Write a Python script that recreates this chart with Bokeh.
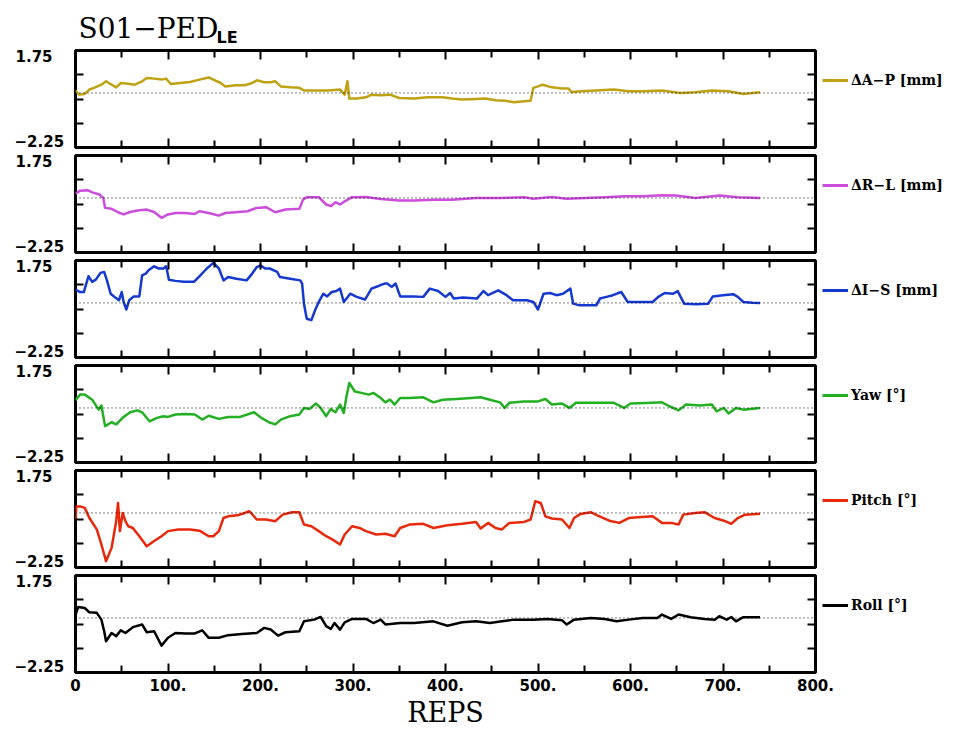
import math
from bokeh.plotting import figure
from bokeh.models import Range1d, LinearAxis, FixedTicker, Span, Label, Legend, LegendItem
from bokeh.layouts import column, row
from bokeh.embed import file_html
from bokeh.resources import INLINE

# ---------------- data ----------------
AP_REPS = [0,4,10,15,20,28,33,39,44,49,57,64,72,77,85,93,98,103,113,124,134,144,149,157,162,173,183,191,196,204,211,216,222,232,242,247,258,273,286,291,294,296,304,314,320,330,340,350,366,381,397,407,418,433,443,454,464,474,485,492,495,500,505,515,526,533,536,546,562,582,598,613,634,654,670,688,706,722,740]
AP_VALS = [0.10,-0.07,-0.04,0.14,0.21,0.34,0.48,0.34,0.23,0.41,0.38,0.34,0.48,0.62,0.59,0.55,0.59,0.37,0.41,0.45,0.55,0.64,0.55,0.41,0.27,0.32,0.32,0.41,0.52,0.44,0.44,0.48,0.27,0.23,0.21,0.10,0.10,0.10,0.14,-0.07,0.48,-0.23,-0.23,-0.18,-0.07,-0.10,-0.07,-0.21,-0.23,-0.18,-0.18,-0.23,-0.27,-0.25,-0.23,-0.30,-0.32,-0.38,-0.34,-0.32,0.21,0.27,0.34,0.23,0.18,0.18,0.04,0.07,0.10,0.14,0.07,0.07,0.10,0.0,0.03,0.10,0.07,-0.04,0.03]

RL_REPS = [0,5,13,18,26,30,32,39,46,52,59,67,77,85,93,100,108,119,129,134,144,155,162,173,186,196,206,216,227,242,246,250,263,271,276,281,286,291,299,314,330,350,366,387,407,433,459,485,495,515,531,551,572,593,613,634,649,670,696,716,740]
RL_VALS = [0.18,0.30,0.32,0.23,0.14,0.0,-0.41,-0.45,-0.59,-0.68,-0.58,-0.52,-0.48,-0.58,-0.82,-0.68,-0.62,-0.62,-0.66,-0.55,-0.62,-0.73,-0.62,-0.59,-0.55,-0.41,-0.38,-0.59,-0.48,-0.45,-0.07,0.03,0.03,-0.27,-0.34,-0.18,-0.27,-0.14,0.03,0.04,-0.04,-0.11,-0.11,-0.07,-0.07,0.0,0.0,0.03,-0.03,0.04,-0.03,0.0,0.03,0.07,0.07,0.11,0.10,0.0,0.10,0.03,0.0]

IS_REPS = [0,5,9,14,18,22,27,31,34,38,43,47,50,52,55,58,63,69,72,76,79,85,90,95,98,101,108,117,128,135,142,149,155,160,165,174,185,191,196,200,205,210,218,221,232,243,245,247,250,255,259,263,268,272,277,282,286,290,297,304,313,320,327,334,337,342,346,351,365,376,383,392,400,405,409,419,434,441,446,457,466,473,488,495,500,506,513,520,527,535,538,545,563,567,574,581,590,597,610,624,630,637,646,651,658,671,684,689,700,711,716,722,732,740]
IS_VALS = [0.55,0.45,0.45,1.10,0.87,0.96,1.24,1.28,0.93,0.38,0.22,0.11,0.45,0.04,-0.27,0.11,0.27,0.27,1.14,1.21,1.35,1.51,1.42,1.42,1.51,0.96,0.91,0.87,0.87,1.14,1.42,1.65,1.42,0.93,1.07,1.00,0.93,1.21,1.48,1.55,1.42,1.42,1.28,1.07,1.00,0.93,0.80,-0.03,-0.65,-0.71,-0.30,0.04,0.38,0.27,0.45,0.49,0.59,0.04,0.38,0.25,0.14,0.59,0.69,0.80,0.80,0.66,0.80,0.27,0.27,0.25,0.59,0.49,0.25,0.41,0.18,0.22,0.18,0.49,0.32,0.52,0.32,0.11,0.11,0.04,-0.27,0.38,0.41,0.32,0.38,0.59,-0.03,-0.10,-0.10,0.18,0.25,0.32,0.45,0.04,0.04,0.04,0.25,0.41,0.38,0.49,-0.03,-0.05,-0.03,0.27,0.32,0.36,0.25,0.04,0.01,0.0]

YAW_REPS = [0,5,10,18,25,28,32,39,44,52,59,67,72,80,88,95,100,108,119,129,137,144,155,165,178,193,201,209,216,222,232,242,247,253,260,265,271,276,281,286,290,293,296,302,309,317,322,330,335,340,345,351,361,376,387,397,412,428,438,448,459,464,469,485,500,508,515,526,534,541,562,582,593,600,624,634,642,652,660,675,688,693,701,706,714,722,740]
YAW_VALS = [0.32,0.55,0.55,0.34,-0.07,0.10,-0.75,-0.59,-0.68,-0.37,-0.18,-0.10,-0.18,-0.55,-0.41,-0.34,-0.37,-0.27,-0.25,-0.27,-0.48,-0.32,-0.45,-0.37,-0.37,-0.18,-0.41,-0.59,-0.68,-0.48,-0.34,-0.27,0.0,-0.04,0.18,0.0,-0.34,-0.04,-0.18,0.14,-0.21,0.48,1.03,0.68,0.62,0.55,0.62,0.41,0.23,0.34,0.14,0.41,0.41,0.44,0.23,0.34,0.37,0.41,0.44,0.34,0.23,0.0,0.21,0.27,0.27,0.37,0.14,0.18,0.0,0.21,0.21,0.21,0.0,0.18,0.21,0.23,0.07,-0.10,0.14,0.10,0.14,-0.14,0.0,-0.23,0.0,-0.07,0.0]

PITCH_REPS = [0,1,5,10,15,23,28,33,39,44,46,48,51,54,57,62,69,77,85,93,100,111,124,134,144,149,155,160,165,175,183,188,196,206,216,224,234,242,247,255,263,271,278,286,291,299,307,314,325,335,345,351,361,376,387,402,418,433,438,446,454,461,469,485,492,497,503,508,515,526,534,539,546,557,564,577,588,598,608,624,634,644,652,657,670,680,691,701,709,716,724,740]
PITCH_VALS = [-0.27,0.27,0.27,0.21,-0.21,-0.68,-1.30,-1.99,-1.44,-0.34,0.41,-0.75,0.0,-0.34,-0.55,-0.62,-0.96,-1.37,-1.16,-0.96,-0.75,-0.68,-0.68,-0.73,-0.96,-0.96,-0.75,-0.21,-0.14,-0.10,0.0,0.07,-0.27,-0.27,-0.34,-0.07,0.03,0.03,-0.48,-0.55,-0.75,-0.96,-1.10,-1.30,-0.89,-0.55,-0.62,-0.75,-0.89,-0.86,-0.96,-0.62,-0.48,-0.45,-0.62,-0.51,-0.45,-0.37,-0.64,-0.41,-0.62,-0.68,-0.41,-0.37,-0.27,0.48,0.41,-0.14,-0.23,-0.27,-0.62,-0.21,-0.04,0.03,-0.10,-0.32,-0.41,-0.21,-0.18,-0.14,-0.41,-0.41,-0.48,-0.07,0.0,0.03,-0.21,-0.32,-0.45,-0.21,-0.07,-0.03]

ROLL_REPS = [0,3,10,15,23,28,31,33,39,44,49,54,62,72,77,85,93,100,108,119,129,137,144,155,165,180,196,204,211,219,227,242,247,258,265,271,276,280,286,291,299,314,322,330,335,351,366,387,402,418,433,448,461,474,495,510,526,531,539,557,572,585,598,613,629,634,644,652,665,680,691,696,704,709,714,722,740]
ROLL_VALS = [0.14,0.45,0.41,0.23,0.21,-0.07,-0.55,-0.96,-0.62,-0.75,-0.51,-0.62,-0.38,-0.27,-0.59,-0.55,-1.14,-0.82,-0.62,-0.64,-0.64,-0.51,-0.82,-0.82,-0.71,-0.66,-0.62,-0.41,-0.48,-0.73,-0.59,-0.55,-0.14,-0.07,0.04,-0.34,-0.45,-0.21,-0.48,-0.18,-0.04,-0.04,-0.21,-0.07,-0.27,-0.21,-0.21,-0.14,-0.32,-0.18,-0.14,-0.21,-0.14,-0.07,-0.07,-0.04,-0.10,-0.27,-0.07,0.0,-0.04,-0.14,-0.07,0.0,0.0,0.14,-0.04,0.14,0.03,-0.04,-0.07,0.07,-0.07,0.04,-0.14,0.03,0.03]

SERIES_LABELS = ["ΔA−P [mm]", "ΔR−L [mm]", "ΔI−S [mm]", "Yaw [°]", "Pitch [°]", "Roll [°]"]
SERIES_COLORS = ["#BEA213", "#CC4CDC", "#1538D0", "#22B022", "#E8280A", "#000000"]
SERIES_REPS = [AP_REPS, RL_REPS, IS_REPS, YAW_REPS, PITCH_REPS, ROLL_REPS]
SERIES_VALS = [AP_VALS, RL_VALS, IS_VALS, YAW_VALS, PITCH_VALS, ROLL_VALS]

X_MAJOR = [0, 100, 200, 300, 400, 500, 600, 700, 800]
X_MINOR = [50, 150, 250, 350, 450, 550, 650, 750]
X_TICK_LABELS = ["0", "100.", "200.", "300.", "400.", "500.", "600.", "700.", "800."]
Y_MIN, Y_MAX = -2.25, 1.75
Y_MINOR = [-1.25, -0.25, 0.75]
Y_TOP_LABEL, Y_BOTTOM_LABEL = "1.75", "−2.25"
TITLE_MAIN, TITLE_SUB = "S01−PED", "LE"
X_TITLE = "REPS"

# ---------------- layout constants (pixels) ----------------
TOTAL_W = 950
FRAME_X0 = 75            # frame left edge on the page
FRAME_W, FRAME_H = 740, 97
GAP = 4                  # border above / below / beside each panel frame
HEADER_H = 46
AXIS_H = 55
N = len(SERIES_LABELS)
ROW_H = 2 * GAP + FRAME_H
MID_H = N * ROW_H
LEFT_W = FRAME_X0 - GAP
PANEL_W = GAP + FRAME_W + GAP
RIGHT_W = TOTAL_W - LEFT_W - PANEL_W
HEADER_X_SHIFT = 77      # observed offset of the header figure's drawing area
NUM_FONT = "DejaVu Sans"
SERIF = "DejaVu Serif"


def blank_fig(width, height):
    f = figure(width=width, height=height, x_range=Range1d(0, 1), y_range=Range1d(0, 1),
               output_backend="svg", toolbar_location=None,
               x_axis_location=None, y_axis_location=None,
               min_border=0, min_border_left=0, min_border_right=0,
               min_border_top=0, min_border_bottom=0,
               outline_line_color=None, background_fill_color="white",
               border_fill_color="white")
    f.grid.visible = False
    return f


def tick_axis(p, side, positions, length):
    ax = LinearAxis(ticker=FixedTicker(ticks=[], minor_ticks=positions))
    ax.axis_line_color = None
    ax.major_tick_in = 0
    ax.major_tick_out = 0
    ax.minor_tick_in = length
    ax.minor_tick_out = 0
    ax.minor_tick_line_color = "black"
    ax.minor_tick_line_width = 2
    ax.major_label_standoff = 0
    p.add_layout(ax, side)
    return ax


def text_label(fig, x, y, text, size, font, style="normal", align="left"):
    fig.add_layout(Label(x=x, y=y, x_units="screen", y_units="screen", text=text,
                         text_align=align, text_baseline="top", text_font=font,
                         text_font_style=style, text_font_size=size, text_color="black"))


# ---------------- header (title) ----------------
header = blank_fig(TOTAL_W, HEADER_H)
text_label(header, 80 - HEADER_X_SHIFT, HEADER_H - 11, TITLE_MAIN, "28px", SERIF)
text_label(header, 218 - HEADER_X_SHIFT, HEADER_H - 27, TITLE_SUB, "16px", NUM_FONT, "bold")

# ---------------- y-range end labels (left strip) ----------------
left = blank_fig(LEFT_W, MID_H)
for k in range(N):
    frame_top = GAP + k * ROW_H
    text_label(left, 15, MID_H - (frame_top - 1), Y_TOP_LABEL, "15px", NUM_FONT, "bold")
    text_label(left, 14, MID_H - (frame_top + 84), Y_BOTTOM_LABEL, "15px", NUM_FONT, "bold")

# ---------------- panels ----------------
panels = []
for i in range(N):
    p = figure(width=PANEL_W, height=ROW_H,
               x_range=Range1d(0, 800), y_range=Range1d(Y_MIN, Y_MAX),
               output_backend="svg", toolbar_location=None,
               x_axis_location=None, y_axis_location=None,
               min_border_left=GAP, min_border_right=GAP,
               min_border_top=GAP, min_border_bottom=GAP,
               outline_line_color="black", outline_line_width=3,
               background_fill_color="white", border_fill_color="white")
    p.grid.visible = False
    tick_axis(p, "above", X_MINOR, 7)
    tick_axis(p, "above", X_MAJOR, 9)
    tick_axis(p, "below", X_MINOR, 7)
    tick_axis(p, "below", X_MAJOR, 9)
    tick_axis(p, "left", Y_MINOR, 8)
    tick_axis(p, "right", Y_MINOR, 8)
    p.add_layout(Span(location=0, dimension="width", line_color="black",
                      line_width=1, line_dash="1 3"))
    p.line(SERIES_REPS[i], SERIES_VALS[i], line_color=SERIES_COLORS[i],
           line_width=2.5, line_join="round")
    panels.append(p)

# ---------------- legends (right strip) ----------------
right = blank_fig(RIGHT_W, MID_H)
for i in range(N):
    # style-only key renderer (a single missing point, nothing is drawn)
    key = right.line([math.nan], [math.nan], line_color=SERIES_COLORS[i], line_width=3)
    frame_top = GAP + i * ROW_H
    leg = Legend(items=[LegendItem(label=SERIES_LABELS[i], renderers=[key])],
                 location=(3, MID_H - (frame_top + 40)), orientation="vertical",
                 padding=0, margin=0, spacing=0,
                 border_line_color=None, background_fill_alpha=0,
                 glyph_width=26, glyph_height=20, label_height=20,
                 label_standoff=3, label_text_font=SERIF,
                 label_text_font_style="bold", label_text_font_size="14px",
                 label_text_color="black")
    right.add_layout(leg)

# ---------------- x tick labels and x title ----------------
axis_fig = figure(width=TOTAL_W, height=AXIS_H, x_range=Range1d(0, 800), y_range=Range1d(0, 1),
                  output_backend="svg", toolbar_location=None,
                  x_axis_location=None, y_axis_location=None,
                  min_border_left=FRAME_X0, min_border_right=TOTAL_W - FRAME_X0 - FRAME_W,
                  min_border_top=0, min_border_bottom=AXIS_H - 1,
                  outline_line_color=None, background_fill_color="white",
                  border_fill_color="white")
axis_fig.grid.visible = False
xa = LinearAxis(ticker=FixedTicker(ticks=X_MAJOR, minor_ticks=[]))
xa.axis_line_color = None
xa.major_tick_in = 0
xa.major_tick_out = 0
xa.major_label_overrides = dict(zip(X_MAJOR, X_TICK_LABELS))
xa.major_label_text_font = NUM_FONT
xa.major_label_text_font_style = "bold"
xa.major_label_text_font_size = "15px"
xa.major_label_text_color = "black"
xa.major_label_standoff = 1
xa.axis_label = X_TITLE
xa.axis_label_text_font = SERIF
xa.axis_label_text_font_style = "normal"
xa.axis_label_text_font_size = "27px"
xa.axis_label_text_color = "black"
xa.axis_label_standoff = 3
axis_fig.add_layout(xa, "below")

layout = column(header,
                row(left, column(*panels, spacing=0), right, spacing=0),
                axis_fig, spacing=0)
open("out.html", "w").write(file_html(layout, INLINE))
